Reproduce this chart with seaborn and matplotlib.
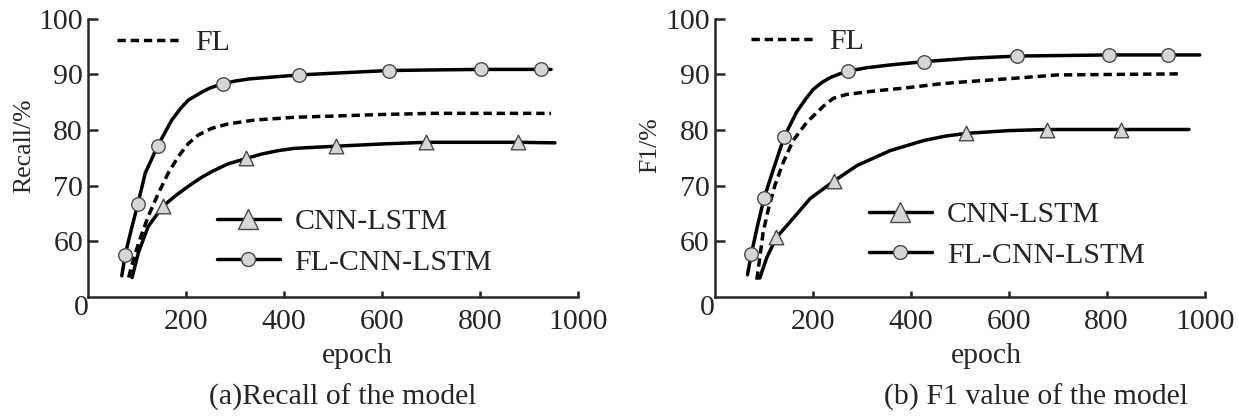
import numpy as np
import pandas as pd
import seaborn as sns
import matplotlib.pyplot as plt
from matplotlib.lines import Line2D

# ---- data (epoch, value in %) ----
# (a) Recall
rec_ep_flcnn = [69, 76, 88, 102, 117, 142, 171, 190, 205, 232, 250, 275, 300, 330, 430, 520, 615, 700, 803, 925, 945]
rec_flcnn = [53.8, 57.6, 62.0, 66.8, 72.3, 77.1, 81.8, 84.0, 85.4, 86.8, 87.6, 88.3, 88.8, 89.2, 89.9, 90.3, 90.7, 90.8, 90.9, 90.9, 90.9]
rec_mk_flcnn = [76, 102, 142, 275, 430, 615, 803, 925]

rec_ep_cnn = [90, 103, 123, 153, 180, 205, 230, 252, 285, 323, 355, 388, 420, 462, 507, 600, 690, 877, 953]
rec_cnn = [53.5, 58.0, 62.7, 66.3, 68.3, 69.9, 71.4, 72.5, 73.9, 74.9, 75.7, 76.3, 76.7, 76.9, 77.1, 77.5, 77.8, 77.8, 77.7]
rec_mk_cnn = [153, 323, 507, 690, 877]

rec_ep_fl = [83, 93, 106, 123, 144, 164, 184, 205, 225, 252, 286, 340, 422, 496, 600, 703, 945]
rec_fl = [53.5, 56.8, 60.4, 64.5, 68.7, 72.3, 75.2, 77.6, 79.1, 80.3, 81.1, 81.8, 82.3, 82.5, 82.8, 83.0, 83.0]

# (b) F1
f1_ep_flcnn = [67, 75, 88, 101, 120, 142, 167, 185, 201, 218, 235, 255, 273, 310, 358, 428, 520, 618, 805, 925, 990]
f1_flcnn = [54.0, 57.8, 63.0, 67.8, 73.0, 78.8, 83.2, 85.5, 87.3, 88.5, 89.4, 90.1, 90.6, 91.2, 91.7, 92.3, 92.9, 93.3, 93.5, 93.5, 93.5]
f1_mk_flcnn = [75, 101, 142, 273, 428, 618, 805, 925]

f1_ep_cnn = [92, 106, 126, 154, 195, 243, 290, 358, 426, 470, 513, 600, 678, 830, 968]
f1_cnn = [53.4, 57.0, 60.7, 63.5, 67.7, 70.8, 73.6, 76.3, 78.1, 78.9, 79.4, 79.9, 80.1, 80.1, 80.1]
f1_mk_cnn = [126, 243, 513, 678, 830]

f1_ep_fl = [86, 92, 99, 110, 123, 140, 160, 188, 222, 242, 269, 324, 392, 460, 500, 611, 698, 946]
f1_fl = [53.1, 57.0, 61.7, 65.9, 70.1, 74.2, 78.1, 81.4, 84.3, 85.7, 86.4, 87.0, 87.6, 88.3, 88.6, 89.3, 89.9, 90.1]

xticks = [200, 400, 600, 800, 1000]
yticks = [60, 70, 80, 90, 100]

sns.set_style('ticks')
plt.rcParams['font.family'] = ['Liberation Serif', 'DejaVu Serif']
plt.rcParams['font.size'] = 21.5

LW = 2.5
FILL = '#d6d6d6'
EDGE = '#4a4a4a'


def draw_panel(ax, fl, cnn, flcnn, ylabel, title, title_x, xlab_x, leg_fl, leg_low):
    ep, val = fl
    sns.lineplot(x=ep, y=val, ax=ax, color='black', linewidth=LW,
                 linestyle=(0, (2.4, 1.4)))
    for ep, val, mk_ep, mk in [cnn + ('^',), flcnn + ('o',)]:
        sns.lineplot(x=ep, y=val, ax=ax, color='black', linewidth=LW)
        df = pd.DataFrame({'ep': ep, 'v': val})
        df = df[df['ep'].isin(mk_ep)]
        sns.scatterplot(data=df, x='ep', y='v', ax=ax, marker=mk,
                        s=110 if mk == '^' else 95, color=FILL,
                        edgecolor=EDGE, linewidth=1.0, zorder=4)

    ax.set_xlim(0, 1000)
    ax.set_ylim(50, 100)
    ax.set_xticks(xticks)
    ax.set_yticks(yticks)
    sns.despine(ax=ax)
    for s in ['left', 'bottom']:
        ax.spines[s].set_linewidth(1.8)
    ax.tick_params(axis='x', direction='in', length=4, width=1.8, pad=9)
    ax.tick_params(axis='y', direction='in', length=7, width=1.8, pad=3.5)
    ax.annotate('0', xy=(0, 0), xycoords='axes fraction', xytext=(-7, -11),
                textcoords='offset pixels', ha='center', va='center')

    ax.set_xlabel('epoch')
    ax.xaxis.set_label_coords(xlab_x, -0.165)
    ax.set_ylabel(ylabel, fontsize=18.5)
    ax.yaxis.set_label_coords(-0.108, 0.545)
    ax.text(title_x, -0.31, title, transform=ax.transAxes, ha='center', va='top')

    h_fl = Line2D([], [], color='black', lw=LW, linestyle=(0, (2.4, 1.4)))
    h_cnn = Line2D([], [], color='black', lw=LW, marker='^', markersize=15,
                   markerfacecolor=FILL, markeredgecolor=EDGE, markeredgewidth=1.0)
    h_flcnn = Line2D([], [], color='black', lw=LW, marker='o', markersize=10,
                     markerfacecolor=FILL, markeredgecolor=EDGE, markeredgewidth=1.0)
    opts = dict(frameon=False, handlelength=2.1, handletextpad=0.5, borderpad=0,
                borderaxespad=0, loc='center left')
    leg1 = ax.legend(handles=[h_fl], labels=['FL'], bbox_to_anchor=leg_fl, **opts)
    ax.add_artist(leg1)
    ax.legend(handles=[h_cnn, h_flcnn], labels=['CNN-LSTM', 'FL-CNN-LSTM'],
              bbox_to_anchor=leg_low, labelspacing=0.45, **opts)


fig = plt.figure(figsize=(12.39, 4.19), dpi=100)
ax1 = fig.add_axes([0.0710, 0.2912, 0.3955, 0.664])
ax2 = fig.add_axes([0.5768, 0.2912, 0.3955, 0.664])

draw_panel(ax1, (rec_ep_fl, rec_fl),
           (rec_ep_cnn, rec_cnn, rec_mk_cnn),
           (rec_ep_flcnn, rec_flcnn, rec_mk_flcnn),
           'Recall/%', '(a)Recall of the model', 0.52, 0.55,
           (0.06, 0.914), (0.263, 0.198))
draw_panel(ax2, (f1_ep_fl, f1_fl),
           (f1_ep_cnn, f1_cnn, f1_mk_cnn),
           (f1_ep_flcnn, f1_flcnn, f1_mk_flcnn),
           'F1/%', '(b) F1 value of the model', 0.655, 0.555,
           (0.075, 0.918), (0.315, 0.223))

fig.savefig('out.png', dpi=100)
